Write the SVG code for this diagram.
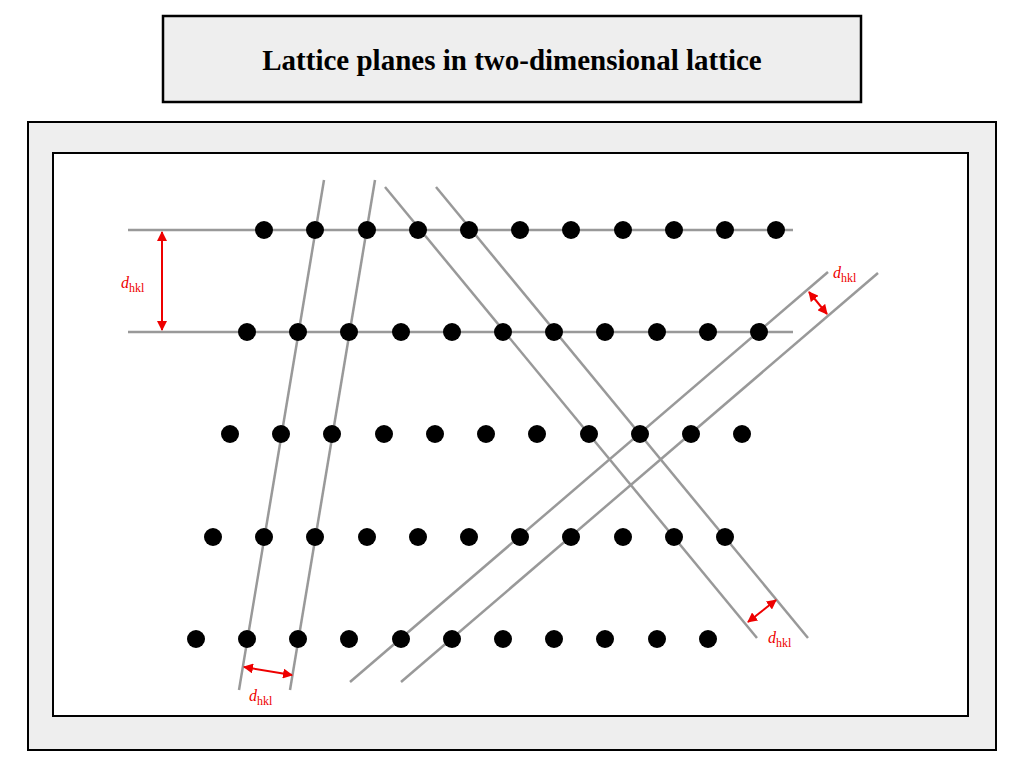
<svg xmlns="http://www.w3.org/2000/svg" width="1024" height="768" viewBox="0 0 1024 768">
<defs>
<style>
.ln{stroke:#999;stroke-width:2.5;fill:none}
.ar{stroke:#e00;stroke-width:2;fill:none;marker-start:url(#a);marker-end:url(#a)}
.lb{font-family:"Liberation Serif",serif;fill:#e00;font-size:16px}
.sb{font-size:12px;font-style:normal}
</style>
<marker id="a" viewBox="0 0 10 10" refX="9" refY="5" markerWidth="5" markerHeight="5" orient="auto-start-reverse"><path d="M0,0L10,5L0,10z" fill="#e00"/></marker>
</defs>
<rect width="1024" height="768" fill="#fff"/>
<g id="title"><rect x="163" y="16" width="698" height="86" fill="#eee" stroke="#000" stroke-width="2.5"/>
<text x="512" y="70" text-anchor="middle" font-family="Liberation Serif,serif" font-weight="bold" font-size="29">Lattice planes in two-dimensional lattice</text></g>
<rect x="28" y="122" width="968" height="628" fill="#eee" stroke="#000" stroke-width="2"/>
<rect x="53" y="153" width="915" height="563" fill="#fff" stroke="#000" stroke-width="2"/>
<g id="connectors">
<line class="ln" x1="128" y1="230" x2="793" y2="230"/>
<line class="ln" x1="128" y1="332" x2="793" y2="332"/>
<line class="ln" x1="324" y1="180" x2="239" y2="690"/>
<line class="ln" x1="375" y1="180" x2="290" y2="690"/>
<line class="ln" x1="385" y1="187" x2="757" y2="638"/>
<line class="ln" x1="436" y1="187" x2="808" y2="638"/>
<line class="ln" x1="350" y1="682" x2="828" y2="272"/>
<line class="ln" x1="401" y1="682" x2="878" y2="273"/>
<line class="ar" x1="162" y1="232" x2="162" y2="330"/>
<line class="ar" x1="809" y1="292" x2="827" y2="314"/>
<line class="ar" x1="748" y1="622" x2="776" y2="600"/>
<line class="ar" x1="244" y1="667" x2="292" y2="675"/>
</g>
<g id="dots" fill="#000">
<g id="r1"><circle cx="264" cy="230" r="9"/><circle cx="315" cy="230" r="9"/><circle cx="367" cy="230" r="9"/><circle cx="418" cy="230" r="9"/><circle cx="469" cy="230" r="9"/><circle cx="520" cy="230" r="9"/><circle cx="571" cy="230" r="9"/><circle cx="623" cy="230" r="9"/><circle cx="674" cy="230" r="9"/><circle cx="725" cy="230" r="9"/><circle cx="776" cy="230" r="9"/></g>
<g id="r2"><circle cx="247" cy="332" r="9"/><circle cx="298" cy="332" r="9"/><circle cx="349" cy="332" r="9"/><circle cx="401" cy="332" r="9"/><circle cx="452" cy="332" r="9"/><circle cx="503" cy="332" r="9"/><circle cx="554" cy="332" r="9"/><circle cx="605" cy="332" r="9"/><circle cx="657" cy="332" r="9"/><circle cx="708" cy="332" r="9"/><circle cx="759" cy="332" r="9"/></g>
<g id="r3"><circle cx="230" cy="434" r="9"/><circle cx="281" cy="434" r="9"/><circle cx="332" cy="434" r="9"/><circle cx="384" cy="434" r="9"/><circle cx="435" cy="434" r="9"/><circle cx="486" cy="434" r="9"/><circle cx="537" cy="434" r="9"/><circle cx="589" cy="434" r="9"/><circle cx="640" cy="434" r="9"/><circle cx="691" cy="434" r="9"/><circle cx="742" cy="434" r="9"/></g>
<g id="r4"><circle cx="213" cy="537" r="9"/><circle cx="264" cy="537" r="9"/><circle cx="315" cy="537" r="9"/><circle cx="367" cy="537" r="9"/><circle cx="418" cy="537" r="9"/><circle cx="469" cy="537" r="9"/><circle cx="520" cy="537" r="9"/><circle cx="571" cy="537" r="9"/><circle cx="623" cy="537" r="9"/><circle cx="674" cy="537" r="9"/><circle cx="725" cy="537" r="9"/></g>
<g id="r5"><circle cx="196" cy="639" r="9"/><circle cx="247" cy="639" r="9"/><circle cx="298" cy="639" r="9"/><circle cx="349" cy="639" r="9"/><circle cx="401" cy="639" r="9"/><circle cx="452" cy="639" r="9"/><circle cx="503" cy="639" r="9"/><circle cx="554" cy="639" r="9"/><circle cx="605" cy="639" r="9"/><circle cx="657" cy="639" r="9"/><circle cx="708" cy="639" r="9"/></g>
</g>
<g id="labels">
<text class="lb" x="121" y="288" font-style="italic">d<tspan class="sb" dy="4">hkl</tspan></text>
<text class="lb" x="833" y="278" font-style="italic">d<tspan class="sb" dy="4">hkl</tspan></text>
<text class="lb" x="768" y="643" font-style="italic">d<tspan class="sb" dy="4">hkl</tspan></text>
<text class="lb" x="249" y="701" font-style="italic">d<tspan class="sb" dy="4">hkl</tspan></text>
</g>
</svg>
